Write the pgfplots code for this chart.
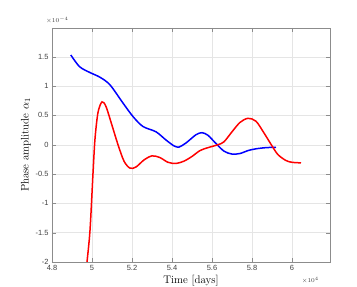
\documentclass[border=0pt]{standalone}
\usepackage{pgfplots}
\pgfplotsset{compat=1.18}
\usepackage{fontspec}
\newfontfamily\arial{Liberation Sans}
\begin{document}
\begin{tikzpicture}
\begin{axis}[
  scale only axis, width=278pt, height=234pt,
  xmin=48000, xmax=61900, ymin=-2e-4, ymax=1.99e-4,
  xtick={48000,50000,52000,54000,56000,58000,60000},
  ytick={-2e-4,-1.5e-4,-1e-4,-0.5e-4,0,0.5e-4,1e-4,1.5e-4},
  scaled x ticks=base 10:-4, scaled y ticks=base 10:4,
  xtick scale label code/.code={$\times 10^{#1}$},
  ytick scale label code/.code={$\times 10^{#1}$},
  every x tick scale label/.style={at={(current axis.south east)}, anchor=north east, xshift=-11pt, yshift=-15pt, font=\arial\fontsize{6.5}{7}\selectfont, inner sep=0pt},
  every y tick scale label/.style={at={(current axis.north west)}, anchor=south west, xshift=-6pt, yshift=4pt, font=\arial\fontsize{6.5}{7}\selectfont, inner sep=0pt},
  /pgf/number format/assume math mode=true,
  /pgf/number format/fixed,
  tick label style={font=\arial\fontsize{7.5}{9}\selectfont, color=black!75},
  grid=major, major grid style={black!10, line width=0.4pt},
  axis line style={black!45, line width=0.5pt},
  tick style={black!45},
  tick align=inside, xtick pos=both, ytick pos=both,
  xlabel={Time [days]}, ylabel={Phase amplitude $\alpha_1$},
  label style={font=\fontsize{11}{13}\selectfont},
  xlabel style={yshift=2pt},
  ylabel style={yshift=-2pt},
]
\addplot[blue, line width=1.5pt, smooth] coordinates {
(48940,1.53e-4) (49380,1.33e-4) (49900,1.23e-4) (50400,1.15e-4) (50900,1.02e-4)
(51550,0.71e-4) (52050,0.48e-4) (52550,0.31e-4) (53200,0.22e-4) (53700,0.08e-4)
(54100,-0.02e-4) (54350,-0.04e-4) (54700,0.03e-4) (55200,0.17e-4) (55500,0.205e-4)
(55800,0.16e-4) (56200,0.02e-4) (56600,-0.11e-4) (57000,-0.16e-4) (57400,-0.15e-4)
(57800,-0.10e-4) (58200,-0.07e-4) (58700,-0.05e-4) (59200,-0.045e-4)
};
\addplot[red, line width=1.5pt, smooth] coordinates {
(49650,-2.3e-4) (49750,-2.0e-4) (49900,-1.46e-4) (50050,-0.49e-4) (50150,0.1e-4)
(50300,0.55e-4) (50500,0.73e-4) (50700,0.65e-4) (51000,0.33e-4) (51300,0.0e-4)
(51600,-0.28e-4) (51900,-0.40e-4) (52200,-0.38e-4) (52600,-0.26e-4) (53000,-0.19e-4)
(53400,-0.22e-4) (53800,-0.30e-4) (54200,-0.32e-4) (54600,-0.28e-4) (55000,-0.20e-4)
(55400,-0.10e-4) (55800,-0.05e-4) (56300,0.0e-4) (56600,0.05e-4) (57000,0.22e-4)
(57400,0.38e-4) (57800,0.45e-4) (58200,0.40e-4) (58600,0.20e-4) (59000,-0.02e-4)
(59300,-0.17e-4) (59700,-0.27e-4) (60000,-0.30e-4) (60450,-0.31e-4)
};
\end{axis}
\pgfresetboundingbox
\path[use as bounding box] ([xshift=-52pt,yshift=-25pt]current axis.south west) rectangle ([xshift=27pt,yshift=28pt]current axis.north east);
\end{tikzpicture}
\end{document}
